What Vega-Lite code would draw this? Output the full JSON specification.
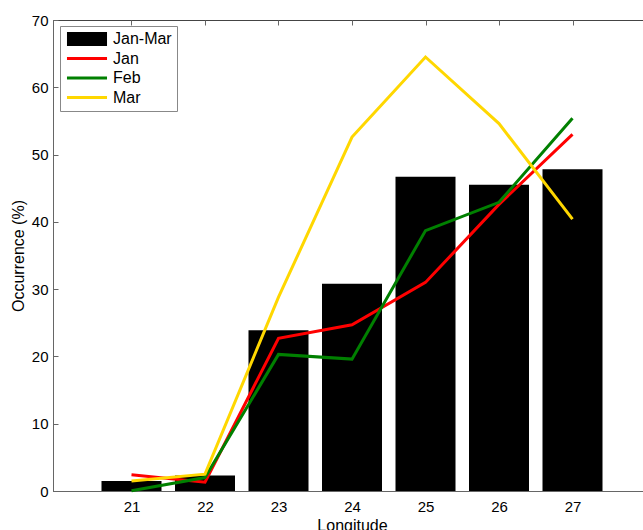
{
  "$schema": "https://vega.github.io/schema/vega-lite/v6.json",
  "autosize": "none",
  "padding": {"left": 53, "top": 20, "right": 0, "bottom": 39},
  "width": 598,
  "height": 471,
  "background": "white",
  "config": {
    "view": {"stroke": "#444", "strokeWidth": 1},
    "font": "Liberation Sans",
    "axis": {"grid": false, "labelFont": "Liberation Sans", "titleFont": "Liberation Sans", "labelFontSize": 15, "titleFontSize": 16, "titleFontWeight": "normal", "labelColor": "#000", "titleColor": "#000", "domainColor": "#666", "tickColor": "#666"}
  },
  "data": {
    "values": [
      {"lon": 21, "series": "Jan-Mar", "value": 1.5},
      {"lon": 22, "series": "Jan-Mar", "value": 2.3},
      {"lon": 23, "series": "Jan-Mar", "value": 23.9},
      {"lon": 24, "series": "Jan-Mar", "value": 30.8},
      {"lon": 25, "series": "Jan-Mar", "value": 46.7},
      {"lon": 26, "series": "Jan-Mar", "value": 45.5},
      {"lon": 27, "series": "Jan-Mar", "value": 47.8},
      {"lon": 21, "series": "Jan", "value": 2.4},
      {"lon": 22, "series": "Jan", "value": 1.3},
      {"lon": 23, "series": "Jan", "value": 22.7},
      {"lon": 24, "series": "Jan", "value": 24.7},
      {"lon": 25, "series": "Jan", "value": 31.0},
      {"lon": 26, "series": "Jan", "value": 42.6},
      {"lon": 27, "series": "Jan", "value": 53.0},
      {"lon": 21, "series": "Feb", "value": 0.05},
      {"lon": 22, "series": "Feb", "value": 2.0},
      {"lon": 23, "series": "Feb", "value": 20.3},
      {"lon": 24, "series": "Feb", "value": 19.6},
      {"lon": 25, "series": "Feb", "value": 38.7},
      {"lon": 26, "series": "Feb", "value": 42.9},
      {"lon": 27, "series": "Feb", "value": 55.4},
      {"lon": 21, "series": "Mar", "value": 1.5},
      {"lon": 22, "series": "Mar", "value": 2.5},
      {"lon": 23, "series": "Mar", "value": 28.8},
      {"lon": 24, "series": "Mar", "value": 52.6},
      {"lon": 25, "series": "Mar", "value": 64.5},
      {"lon": 26, "series": "Mar", "value": 54.6},
      {"lon": 27, "series": "Mar", "value": 40.4}
    ]
  },
  "layer": [
    {
      "transform": [{"filter": "datum.series == 'Jan-Mar'"}],
      "mark": {"type": "bar", "orient": "vertical", "size": 60},
      "encoding": {
        "x": {"field": "lon", "type": "quantitative", "scale": {"domain": [20, 28], "nice": false, "zero": false},
              "axis": {"title": "Longitude", "values": [21, 22, 23, 24, 25, 26, 27], "tickSize": -5, "labelPadding": 13, "titlePadding": 3}},
        "y": {"field": "value", "type": "quantitative", "scale": {"domain": [0, 70], "nice": false},
              "axis": {"title": "Occurrence (%)", "values": [0, 10, 20, 30, 40, 50, 60, 70], "tickSize": -5, "labelPadding": 10, "titlePadding": 5}},
        "color": {"field": "series", "type": "nominal",
                  "scale": {"domain": ["Jan-Mar", "Jan", "Feb", "Mar"], "range": ["#000000", "#FF0000", "#008000", "#FFD700"]},
                  "legend": {
                    "title": null, "orient": "none", "legendX": 7, "legendY": 6,
                    "fillColor": "white", "strokeColor": "#888", "padding": 5,
                    "labelFont": "Liberation Sans", "labelFontSize": 16, "labelColor": "#000",
                    "symbolSize": 196, "symbolOffset": 14, "labelOffset": 18, "rowPadding": 3.5,
                    "encode": {
                      "symbols": {"update": {
                        "shape": {"signal": "datum.value == 'Jan-Mar' ? 'M-2.86,-1H2.86V1H-2.86Z' : 'M-2.86,0H2.86'"},
                        "fill": {"signal": "datum.value == 'Jan-Mar' ? '#000000' : 'transparent'"},
                        "stroke": {"signal": "scale('color', datum.value)"},
                        "strokeWidth": {"signal": "datum.value == 'Jan-Mar' ? 0 : 3"},
                        "opacity": {"value": 1}
                      }}
                    }
                  }}
      }
    },
    {
      "transform": [{"filter": "datum.series != 'Jan-Mar'"}],
      "mark": {"type": "line", "strokeWidth": 3},
      "encoding": {
        "x": {"field": "lon", "type": "quantitative",
              "axis": {"orient": "top", "values": [21, 22, 23, 24, 25, 26, 27], "labels": false, "domain": false, "title": null, "tickSize": -5}},
        "y": {"field": "value", "type": "quantitative"},
        "color": {"field": "series", "type": "nominal"}
      }
    }
  ],
  "resolve": {"axis": {"x": "independent"}}
}
